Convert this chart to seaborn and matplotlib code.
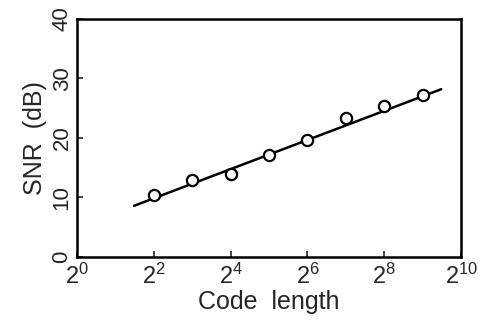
import matplotlib
matplotlib.use("Agg")
import matplotlib.pyplot as plt
import matplotlib.ticker as mticker
import seaborn as sns
import pandas as pd

# measured points
code_length = [4, 8, 16, 32, 64, 128, 256, 512]
snr_db = [10.4, 12.9, 13.9, 17.1, 19.6, 23.3, 25.3, 27.3]

# fitted line endpoints
fit_length = [2 ** 1.49, 2 ** 9.48]
fit_snr = [8.6, 28.2]

x_ticks = [2 ** k for k in range(0, 11, 2)]
y_ticks = [0, 10, 20, 30, 40]

sns.set_theme(style="ticks")
plt.rcParams['font.family'] = ['Liberation Sans', 'DejaVu Sans']
plt.rcParams['mathtext.fontset'] = 'custom'
plt.rcParams['mathtext.rm'] = 'Liberation Sans'

fig = plt.figure(figsize=(4.86, 3.22), dpi=100)
ax = fig.add_axes([0.158, 0.202, 0.791, 0.739])

pts = pd.DataFrame({"len": code_length, "snr": snr_db})
fit = pd.DataFrame({"len": fit_length, "snr": fit_snr})

sns.lineplot(data=fit, x="len", y="snr", ax=ax, color="black", linewidth=1.8)
sns.scatterplot(data=pts, x="len", y="snr", ax=ax, marker="o", s=65,
                facecolor="white", edgecolor="black", linewidth=1.6, zorder=3)

ax.set_xscale("log", base=2)
ax.set_xlim(1, 1024)
ax.set_ylim(0, 40)
ax.set_xticks(x_ticks)
ax.xaxis.set_major_formatter(mticker.LogFormatterMathtext(base=2))
ax.xaxis.set_minor_locator(mticker.NullLocator())
ax.set_yticks(y_ticks)

ax.tick_params(direction="in", length=4, width=1.2)
ax.tick_params(axis="x", labelsize=17, pad=5)
ax.tick_params(axis="y", labelsize=16, pad=3)
for lab in ax.get_yticklabels():
    lab.set_rotation(90)
    lab.set_va("center")
for s in ax.spines.values():
    s.set_linewidth(1.8)
    s.set_color("black")

ax.set_xlabel("Code  length", fontsize=18, labelpad=1)
ax.set_ylabel("SNR  (dB)", fontsize=18, labelpad=3)

fig.savefig("out.png", dpi=100)
